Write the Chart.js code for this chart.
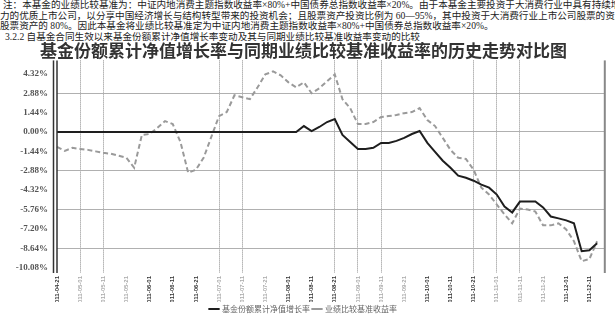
<!DOCTYPE html>
<html>
<head>
<meta charset="utf-8">
<script src="https://cdn.jsdelivr.net/npm/chart.js@4.4.1/dist/chart.umd.min.js"></script>
<style>
body { margin: 0; background: #fff; width: 615px; height: 315px; overflow: hidden; position: relative;
       font-family: "Liberation Serif", "Noto Sans CJK SC", serif; color: #222; }
.t { position: absolute; white-space: nowrap; font-size: 9.6px; line-height: 10px; }
#wrap { position: absolute; left: 0; top: 40px; width: 615px; height: 283px; }
</style>
</head>
<body>
<div class="t" style="left:3px;top:0">注：本基金的业绩比较基准为：中证内地消费主题指数收益率×80%+中国债券总指数收益率×20%。由于本基金主要投资于大消费行业中具有持续增</div>
<div class="t" style="left:0;top:10.5px">力的优质上市公司，以分享中国经济增长与结构转型带来的投资机会；且股票资产投资比例为 60—95%，其中投资于大消费行业上市公司股票的资产不</div>
<div class="t" style="left:0;top:21px">股票资产的 80%。因此本基金将业绩比较基准定为中证内地消费主题指数收益率×80%+中国债券总指数收益率×20%。</div>
<div class="t" style="left:5px;top:31.5px">3.2.2 自基金合同生效以来基金份额累计净值增长率变动及其与同期业绩比较基准收益率变动的比较</div>
<div id="wrap"><canvas id="c"></canvas></div>
<script>
// =============================================
// 数据
// =============================================
const categories = [
    '2011-04-21', '2011-04-24', '2011-04-27',
    '2011-05-01', '2011-05-04', '2011-05-07', '2011-05-11', '2011-05-14', '2011-05-17', '2011-05-21', '2011-05-24', '2011-05-27',
    '2011-06-01', '2011-06-04', '2011-06-07', '2011-06-11', '2011-06-14', '2011-06-17', '2011-06-21', '2011-06-24', '2011-06-27',
    '2011-07-01', '2011-07-04', '2011-07-07', '2011-07-11', '2011-07-14', '2011-07-17', '2011-07-21', '2011-07-24', '2011-07-27',
    '2011-08-01', '2011-08-04', '2011-08-07', '2011-08-11', '2011-08-14', '2011-08-17', '2011-08-21', '2011-08-24', '2011-08-27',
    '2011-09-01', '2011-09-04', '2011-09-07', '2011-09-11', '2011-09-14', '2011-09-17', '2011-09-21', '2011-09-24', '2011-09-27',
    '2011-10-01', '2011-10-04', '2011-10-07', '2011-10-11', '2011-10-14', '2011-10-17', '2011-10-21', '2011-10-24', '2011-10-27',
    '2011-11-01', '2011-11-04', '2011-11-07', '2011-11-11', '2011-11-14', '2011-11-17', '2011-11-21', '2011-11-24', '2011-11-27',
    '2011-12-01', '2011-12-04', '2011-12-07', '2011-12-11', '2011-12-14', '2011-12-17'
];

// 基金份额累计净值增长率 (%)
const fundValues = [
    0, 0, 0, 0, 0, 0, 0, 0, 0, 0,
    0, 0, 0, 0, 0, 0, 0, 0, 0, 0,
    0, 0, 0, 0, 0, 0, 0, 0, 0, 0,
    0, 0, 0.44, 0.07, 0.37, 0.74, 0.96, -0.22, -0.74, -1.26,
    -1.26, -1.18, -0.81, -0.81, -0.66, -0.44, -0.15, 0.07, -0.81, -1.48,
    -2.14, -2.66, -3.25, -3.40, -3.62, -3.91, -4.14, -4.65, -5.54, -5.98,
    -5.17, -5.17, -5.17, -5.61, -6.28, -6.42, -6.57, -6.79, -8.86, -8.79,
    -8.27, null
];

// 业绩比较基准收益率 (%)
const benchValues = [
    -1.11, -1.40, -1.18, -1.26, -1.33, -1.44, -1.55, -1.62, -1.77, -1.92,
    -2.66, -0.22, -0.15, 0.30, 0.81, 0.59, -0.74, -3.03, -2.81, -1.92,
    -0.37, 1.18, 1.48, 2.73, 2.58, 2.44, 3.32, 4.28, 4.50, 4.21,
    3.69, 3.32, 3.69, 2.88, 3.25, 3.77, 4.28, 2.44, 1.77, 0.59,
    0.59, 0.74, 1.11, 1.18, 1.26, 1.40, 1.48, 1.77, 0.89, 0.44,
    -0.44, -1.33, -1.92, -2.00, -2.81, -4.14, -4.65, -5.39, -6.13, -6.79,
    -5.69, -5.76, -5.91, -6.94, -6.94, -6.79, -7.24, -8.12, -9.60, -9.45,
    -8.12, null
];

const yTicks = [4.32, 2.88, 1.44, 0, -1.44, -2.88, -4.32, -5.76, -7.20, -8.64, -10.08];
const yGridTicks = [2.88, 0, -2.88, -5.76, -8.64];
const xTickEvery = 3;
const xDottedLabels = [1, 2, 7, 8, 12, 13, 14, 18, 19, 20];

const seriesNames = ['基金份额累计净值增长率', '业绩比较基准收益率'];
const chartTitle = '基金份额累计净值增长率与同期业绩比较基准收益率的历史走势对比图';

// 左侧双线 + 右边框
const frame = {
    id: 'frame',
    afterDraw(chart) {
        const { ctx, chartArea: a } = chart;
        ctx.save();
        ctx.strokeStyle = '#333';
        ctx.lineWidth = 1.5;
        [a.left - 3.5, a.left].forEach(x => {
            ctx.beginPath();
            ctx.moveTo(x, a.top);
            ctx.lineTo(x, a.bottom);
            ctx.stroke();
        });
        ctx.strokeStyle = '#888';
        ctx.lineWidth = 2;
        ctx.beginPath();
        ctx.moveTo(a.right, a.top);
        ctx.lineTo(a.right, a.bottom);
        ctx.stroke();
        ctx.restore();
    }
};

new Chart(document.getElementById('c'), {
    type: 'line',
    data: {
        labels: categories,
        datasets: [
            {
                label: seriesNames[0],
                data: fundValues,
                borderColor: '#1e1e1e',
                borderWidth: 2,
                pointRadius: 0,
                tension: 0
            },
            {
                label: seriesNames[1],
                data: benchValues,
                borderColor: '#9a9a9a',
                borderWidth: 2,
                borderDash: [5, 3],
                pointRadius: 0,
                tension: 0
            }
        ]
    },
    options: {
        responsive: true,
        maintainAspectRatio: false,
        animation: false,
        layout: { padding: { left: 0, right: 8, top: 0, bottom: 0 } },
        plugins: {
            title: {
                display: true,
                text: chartTitle,
                color: '#333',
                font: { family: '"Noto Sans CJK SC"', size: 17, weight: 'bold' },
                padding: { top: 0, bottom: 0 }
            },
            legend: {
                position: 'bottom',
                labels: {
                    color: '#666',
                    font: { family: '"Noto Sans CJK SC"', size: 8 },
                    usePointStyle: true,
                    pointStyle: 'line',
                    boxWidth: 26,
                    padding: 3
                }
            },
            tooltip: { enabled: false }
        },
        scales: {
            x: {
                afterFit: s => { s.height = 29; },
                grid: {
                    drawTicks: false,
                    color: c => {
                        const i = c.index;
                        return (i % xTickEvery === 0 && xDottedLabels.includes(i / xTickEvery)) ? '#8a8a8a' : 'rgba(0,0,0,0)';
                    }
                },
                border: { display: false, dash: [1, 1] },
                ticks: {
                    autoSkip: false,
                    minRotation: 90,
                    maxRotation: 90,
                    padding: 3,
                    font: { family: '"Liberation Sans"', size: 6, weight: 'bold' },
                    color: c => {
                        const month = parseInt(categories[c.index].slice(5, 7), 10);
                        return month % 2 ? '#aaa' : '#333';
                    },
                    callback: (v, i) => i % xTickEvery === 0 ? categories[i] : ''
                }
            },
            y: {
                min: -10.48,
                max: 5.32,
                afterFit: s => { s.width = 57; },
                afterBuildTicks: s => { s.ticks = yTicks.map(v => ({ value: v })); },
                grid: {
                    drawTicks: false,
                    color: c => yGridTicks.includes(c.tick.value) ? '#b0b0b0' : 'rgba(0,0,0,0)'
                },
                border: { display: false },
                ticks: {
                    padding: 9,
                    color: '#555',
                    font: { family: '"Liberation Serif"', size: 9, weight: 'bold' },
                    callback: v => v.toFixed(2) + '%'
                }
            }
        }
    },
    plugins: [frame]
});
</script>
</body>
</html>
